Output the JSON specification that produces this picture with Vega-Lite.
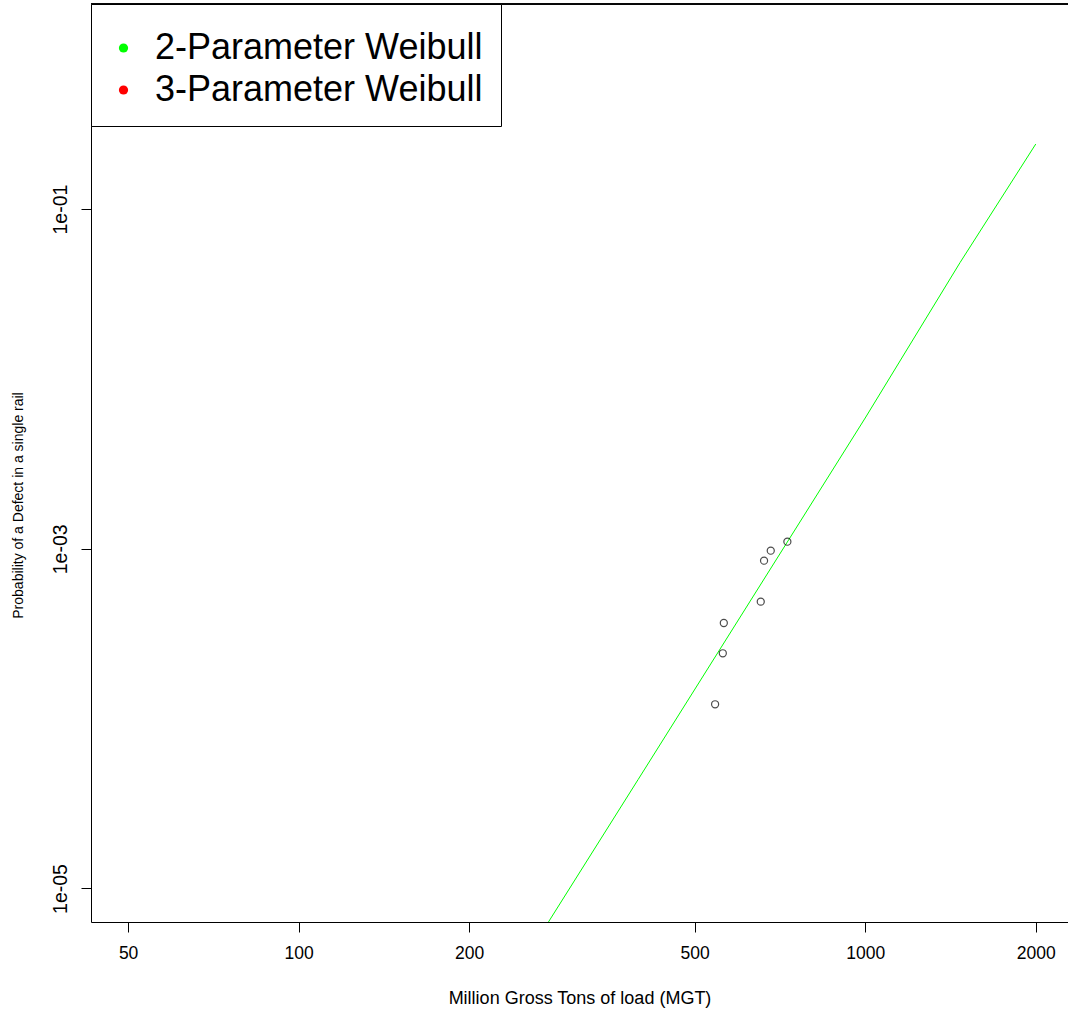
{
  "$schema": "https://vega.github.io/schema/vega-lite/v6.json",
  "width": 977,
  "height": 918,
  "autosize": "none",
  "padding": {"left": 91, "top": 4, "right": 0, "bottom": 93},
  "background": "white",
  "config": {
    "view": {"stroke": null},
    "axis": {"grid": false, "domainColor": "black", "tickColor": "black", "labelColor": "black", "titleColor": "black", "tickSize": 10, "domainWidth": 1, "tickWidth": 1, "titleFontWeight": "normal"}
  },
  "datasets": {
    "obs": [
      {"mgt": 728.8, "p": 0.001101},
      {"mgt": 681.2, "p": 0.0009745},
      {"mgt": 662.9, "p": 0.000851},
      {"mgt": 654.1, "p": 0.0004883},
      {"mgt": 562.9, "p": 0.0003657},
      {"mgt": 560.6, "p": 0.0002425},
      {"mgt": 543.3, "p": 0.0001215}
    ],
    "fit": [
      {"mgt": 276.0, "p": 0.00000635},
      {"mgt": 397.2, "p": 0.0000437},
      {"mgt": 1000, "p": 0.00589},
      {"mgt": 1470, "p": 0.0484},
      {"mgt": 2000, "p": 0.2416}
    ],
    "models": [
      {"model": "2-Parameter Weibull"},
      {"model": "3-Parameter Weibull"}
    ]
  },
  "layer": [
    {
      "data": {"name": "fit"},
      "mark": {"type": "line", "color": "#00ff00", "strokeWidth": 1, "clip": true},
      "encoding": {
        "x": {
          "field": "mgt", "type": "quantitative",
          "scale": {"type": "log", "domain": [43.0, 2280], "nice": false, "zero": false},
          "axis": {
            "values": [50, 100, 200, 500, 1000, 2000],
            "format": "d",
            "title": "Million Gross Tons of load (MGT)",
            "labelFont": "Liberation Sans", "labelFontSize": 17.5, "labelPadding": 12,
            "titleFont": "Liberation Sans", "titleFontSize": 18,
            "titleY": 76, "titleBaseline": "middle"
          }
        },
        "y": {
          "field": "p", "type": "quantitative",
          "scale": {"type": "log", "domain": [0.000006348, 1.613], "nice": false, "zero": false},
          "axis": {
            "values": [0.00001, 0.001, 0.1],
            "labelExpr": "datum.value < 0.0001 ? '1e-05' : (datum.value < 0.01 ? '1e-03' : '1e-01')",
            "title": "Probability of a Defect in a single rail",
            "labelFont": "Liberation Sans", "labelFontSize": 19.5, "labelAngle": 270,
            "labelAlign": "center", "labelBaseline": "middle", "labelPadding": 21,
            "titleFont": "Liberation Sans", "titleFontSize": 14,
            "titleX": -73, "titleY": 501, "titleAlign": "center", "titleBaseline": "middle", "titleAngle": 270
          }
        }
      }
    },
    {
      "data": {"name": "obs"},
      "mark": {"type": "point", "shape": "circle", "filled": false, "color": "black", "size": 50, "strokeWidth": 1.2},
      "encoding": {
        "x": {"field": "mgt", "type": "quantitative"},
        "y": {"field": "p", "type": "quantitative"}
      }
    },
    {
      "data": {"name": "fit"},
      "mark": {"type": "rule", "color": "black", "strokeWidth": 1},
      "encoding": {
        "y": {"datum": 1.613, "type": "quantitative"}
      }
    },
    {
      "data": {"name": "models"},
      "transform": [{"filter": "false"}],
      "mark": {"type": "point", "shape": "circle", "filled": true, "size": 85},
      "encoding": {
        "color": {
          "field": "model", "type": "nominal",
          "scale": {"domain": ["2-Parameter Weibull", "3-Parameter Weibull"], "range": ["#00ff00", "#ff0000"]},
          "legend": {
            "title": " ", "titleFontSize": 1, "titlePadding": 7,
            "orient": "none", "legendX": 0, "legendY": 0,
            "strokeColor": "black", "fillColor": "white", "padding": 18,
            "labelFont": "Liberation Sans", "labelFontSize": 36, "labelLimit": 1000,
            "labelOffset": 13.5, "symbolOffset": -3.5, "rowPadding": 6,
            "symbolType": "circle", "symbolSize": 85, "symbolStrokeWidth": 0, "symbolOpacity": 1
          }
        }
      }
    }
  ]
}
